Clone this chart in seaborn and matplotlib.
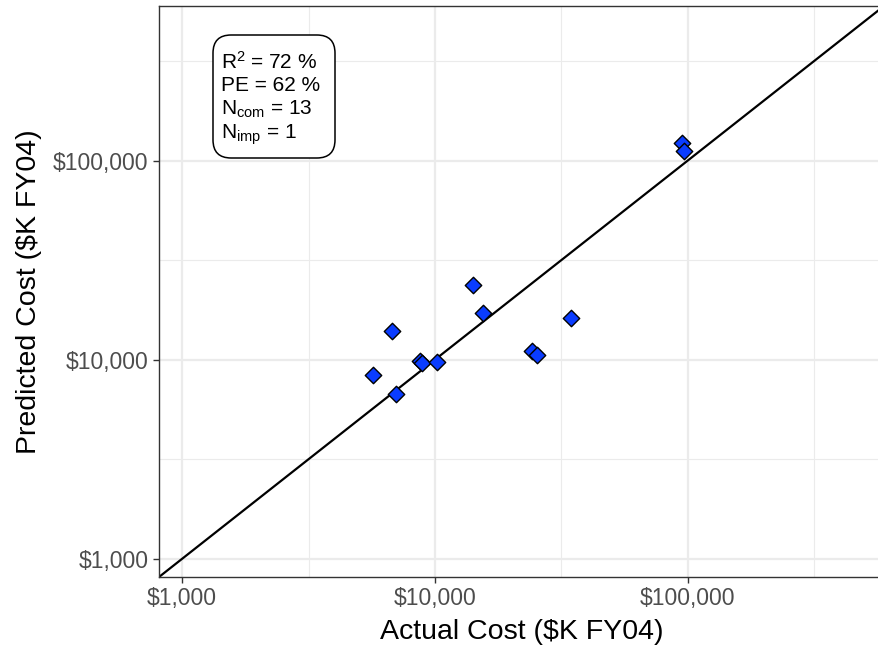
import numpy as np
import pandas as pd
import matplotlib
matplotlib.use("Agg")
import matplotlib.pyplot as plt
import seaborn as sns
from matplotlib.ticker import FixedLocator, NullFormatter
from matplotlib.patches import FancyBboxPatch

# ---- data ----
actual_cost = [14170, 15530, 34530, 6740, 24130, 25400, 8720, 8880, 10160, 5700, 7010, 94700, 96970]
predicted_cost = [23620, 17170, 16130, 13990, 11010, 10600, 9800, 9660, 9770, 8408, 6690, 122700, 111400]
axis_limits = [810, 598000]
major_breaks = [1000, 10000, 100000]
minor_breaks = [316.2, 3162, 31623, 316228]
tick_labels = ["$1,000", "$10,000", "$100,000"]
stats_text = ["R$^{2}$ = 72 %", "PE = 62 %", "N$_{\\mathrm{com}}$ = 13", "N$_{\\mathrm{imp}}$ = 1"]

df = pd.DataFrame({"actual": actual_cost, "predicted": predicted_cost})

sns.set_theme(style="white")
plt.rcParams["font.family"] = ["Liberation Sans", "DejaVu Sans"]
plt.rcParams["mathtext.fontset"] = "custom"
plt.rcParams["mathtext.rm"] = "Liberation Sans"
plt.rcParams["mathtext.it"] = "Liberation Sans"
plt.rcParams["mathtext.bf"] = "Liberation Sans:bold"

fig = plt.figure(figsize=(8.79, 6.49), dpi=100)
ax = fig.add_axes([159 / 879, (649 - 577) / 649, (884 - 159) / 879, (577 - 6) / 649])

ax.set_xscale("log")
ax.set_yscale("log")
ax.set_xlim(axis_limits)
ax.set_ylim(axis_limits)

# grid
ax.xaxis.set_major_locator(FixedLocator(major_breaks))
ax.yaxis.set_major_locator(FixedLocator(major_breaks))
ax.xaxis.set_minor_locator(FixedLocator(minor_breaks))
ax.yaxis.set_minor_locator(FixedLocator(minor_breaks))
ax.xaxis.set_minor_formatter(NullFormatter())
ax.yaxis.set_minor_formatter(NullFormatter())
ax.set_xticklabels(tick_labels)
ax.set_yticklabels(tick_labels)
ax.grid(True, which="major", color="#EBEBEB", linewidth=1.6, zorder=0)
ax.grid(True, which="minor", color="#EBEBEB", linewidth=0.8, zorder=0)
ax.set_axisbelow(True)

ax.tick_params(axis="both", which="major", length=4.5, width=1.0, color="#333333",
               labelsize=16.5, labelcolor="#4D4D4D", pad=3, direction="out",
               bottom=True, left=True)
ax.tick_params(axis="both", which="minor", length=0)

for sp in ax.spines.values():
    sp.set_color("#333333")
    sp.set_linewidth(1.0)

# identity line
ax.plot(axis_limits, axis_limits, color="black", linewidth=1.6, zorder=2)

sns.scatterplot(data=df, x="actual", y="predicted", marker="D", s=70,
                color="#0A3CFF", edgecolor="black", linewidth=1.0, ax=ax, zorder=3)

ax.set_xlabel("Actual Cost ($K FY04)", fontsize=20.5, color="black", labelpad=6)
ax.set_ylabel("Predicted Cost ($K FY04)", fontsize=20.5, color="black", labelpad=8)

# annotation box
bx0, bx1 = (213 - 159) / 725, (335 - 159) / 725
by0, by1 = (577 - 158) / 571, (577 - 35) / 571
box = FancyBboxPatch((bx0, by0), bx1 - bx0, by1 - by0, transform=ax.transAxes,
                     boxstyle="round,pad=0,rounding_size=0.025", fc="white", ec="black",
                     lw=1.1, zorder=5, mutation_aspect=725 / 571)
ax.add_patch(box)
ax.text(0.0855, 0.921, "\n".join(stats_text), transform=ax.transAxes, ha="left", va="top",
        fontsize=15, color="black", linespacing=1.2, zorder=6)

fig.savefig("out.png", dpi=100)
